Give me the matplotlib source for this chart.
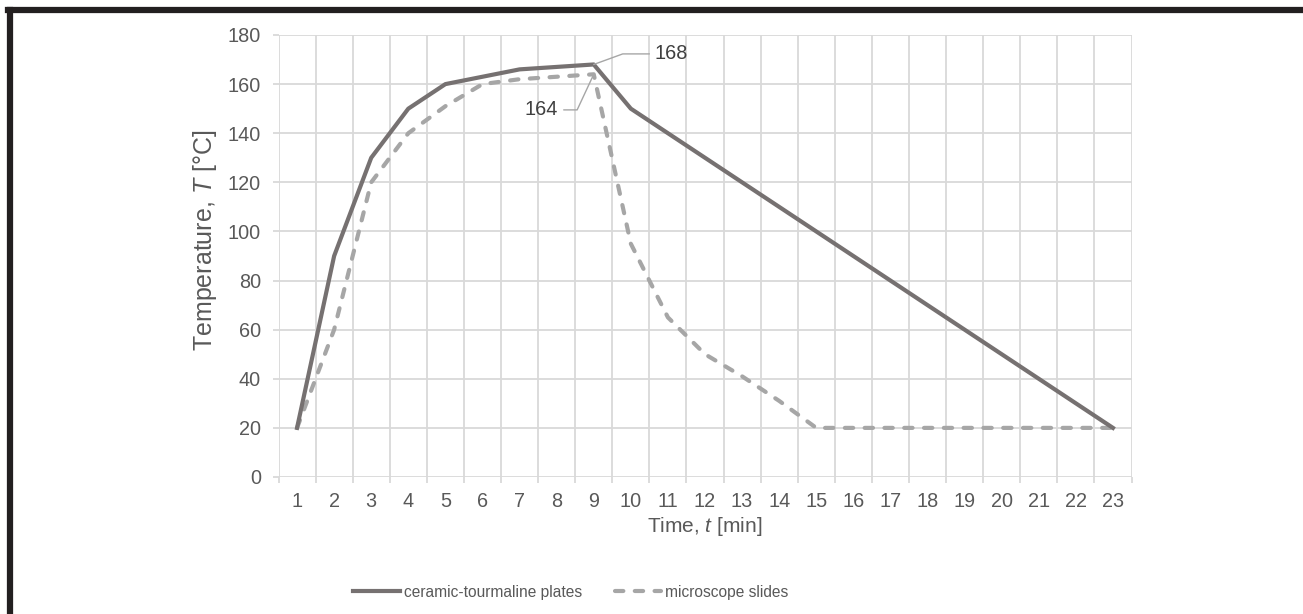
import matplotlib
matplotlib.use('Agg')
import matplotlib.pyplot as plt
import numpy as np
from matplotlib.lines import Line2D

# 시간 (카테고리) 및 온도 데이터
minutes = list(range(1, 24))
ceramic = [20, 90, 130, 150, 160, 163, 166, 167, 168, 150, 140, 130, 120,
           110, 100, 90, 80, 70, 60, 50, 40, 30, 20]
slides = [20, 60, 120, 140, 151, 160, 162, 163, 164, 95, 65, 50, 41,
          31, 20, 20, 20, 20, 20, 20, 20, 20, 20]
labels = ['ceramic-tourmaline plates', 'microscope slides']

plt.rcParams['font.family'] = ['Liberation Sans', 'DejaVu Sans']
plt.rcParams['mathtext.fontset'] = 'custom'
plt.rcParams['mathtext.it'] = 'Liberation Sans:italic'
plt.rcParams['mathtext.rm'] = 'Liberation Sans'

txt = '#595959'
grid = '#d9d9d9'
W, H = 1303, 614

fig = plt.figure(figsize=(13.03, 6.14), dpi=100)
ax = fig.add_axes([278.5 / W, 1 - 477 / H, (1131.5 - 278.5) / W, (477 - 35) / H])

x = np.array(minutes)
ax.plot(x, ceramic, color='#767171', lw=3.0, label=labels[0], zorder=3)
ax.plot(x, slides, color='#a6a6a6', lw=3.0, dashes=(2.0, 2.75), dash_capstyle='round',
        label=labels[1], zorder=2)

ax.set_xlim(0.5, 23.5)
ax.set_ylim(0, 180)
ax.set_xticks(x)
ax.set_xticklabels([str(m) for m in minutes])
ax.set_xticks(np.arange(0.5, 24, 1), minor=True)
ax.set_yticks(np.arange(0, 181, 20))
ax.tick_params(axis='x', which='major', length=0, pad=11, labelsize=14.3, labelcolor=txt)
ax.tick_params(axis='x', which='minor', length=4.3, color=grid, width=1.3)
ax.tick_params(axis='y', length=4, color=grid, width=1.3, pad=8.6, labelsize=14.3, labelcolor=txt)
ax.grid(True, axis='y', color=grid, lw=1.3)
ax.grid(True, axis='x', which='minor', color=grid, lw=1.3)
ax.set_axisbelow(True)
for s in ax.spines.values():
    s.set_visible(False)

ax.set_xlabel('Time, $\\mathit{t}$ [min]', fontsize=15, color=txt)
ax.xaxis.set_label_coords(0.5, -(515 - 477) / 442)
ax.set_ylabel('Temperature, $\\mathit{T}$ [°C]', fontsize=18, color=txt)
ax.yaxis.set_label_coords(-(278.5 - 219) / 853, (477 - 240) / 442)

# 최고온도 표시
ax.annotate('168', xy=(9, 168), xytext=(10.65, 172.3), fontsize=14.3, color='#404040',
            va='center', ha='left',
            arrowprops=dict(arrowstyle='-', color='#a6a6a6', lw=1,
                            connectionstyle='angle,angleA=0,angleB=20,rad=0', shrinkA=2, shrinkB=0))
ax.annotate('164', xy=(9, 164), xytext=(8.04, 149.5), fontsize=14.3, color='#404040',
            va='center', ha='right',
            arrowprops=dict(arrowstyle='-', color='#a6a6a6', lw=1,
                            connectionstyle='angle,angleA=0,angleB=65,rad=0', shrinkA=2, shrinkB=0))

leg = fig.legend(loc='center', bbox_to_anchor=(571 / W, 1 - 592 / H), ncol=2, frameon=False,
                 fontsize=11.2, handlelength=3.0, handletextpad=0.25, columnspacing=2.1)
for t in leg.get_texts():
    t.set_color(txt)

# 바깥 테두리 (위, 왼쪽)
fig.add_artist(Line2D([10 / W, 10 / W], [0, 1 - 10 / H], color='#231f20', lw=4.5,
                      transform=fig.transFigure))
fig.add_artist(Line2D([7.5 / W, 1], [1 - 10 / H, 1 - 10 / H], color='#231f20', lw=4.5,
                      transform=fig.transFigure))

fig.savefig('out.png', dpi=100)
